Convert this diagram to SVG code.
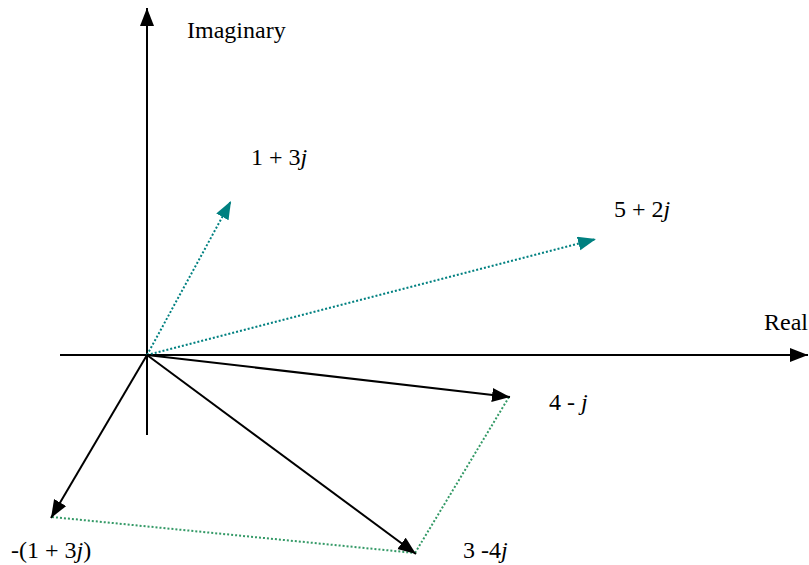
<svg xmlns="http://www.w3.org/2000/svg" width="809" height="565" viewBox="0 0 809 565">
<style>
text{font-family:"Liberation Serif","Times New Roman",serif;font-size:24px;fill:#000}
.ax{stroke:#000;stroke-width:2;fill:none}
.bk{stroke:#000;stroke-width:2;fill:none}
.tl{stroke:#008080;stroke-width:2;stroke-dasharray:2 2;fill:none}
.gn{stroke:#339966;stroke-width:2;stroke-dasharray:2 2;fill:none}
</style>
<defs>
<marker id="ab" markerUnits="userSpaceOnUse" markerWidth="20" markerHeight="16" refX="18" refY="7" orient="auto"><path d="M0,0L18,7L0,14z" fill="#000"/></marker>
<marker id="at" markerUnits="userSpaceOnUse" markerWidth="20" markerHeight="16" refX="18" refY="7" orient="auto"><path d="M0,0L18,7L0,14z" fill="#008080"/></marker>
</defs>
<g id="connectors">
<line class="ax" x1="147" y1="435" x2="147" y2="8" marker-end="url(#ab)"/>
<line class="ax" x1="60" y1="355" x2="808" y2="355" marker-end="url(#ab)"/>
<line class="tl" x1="147" y1="355" x2="231" y2="201" marker-end="url(#at)"/>
<line class="tl" x1="147" y1="355" x2="596" y2="239" marker-end="url(#at)"/>
<line class="gn" x1="509" y1="397" x2="415" y2="553"/>
<line class="gn" x1="52" y1="517" x2="415" y2="553"/>
<line class="bk" x1="147" y1="355" x2="510" y2="397" marker-end="url(#ab)"/>
<line class="bk" x1="147" y1="355" x2="416" y2="554" marker-end="url(#ab)"/>
<line class="bk" x1="147" y1="355" x2="51" y2="518" marker-end="url(#ab)"/>
</g>
<g id="label-imag"><text x="187" y="38">Imaginary</text></g>
<g id="label-real"><text x="764" y="330">Real</text></g>
<g id="label-1p3j"><text x="251" y="165">1 + 3<tspan font-style="italic">j</tspan></text></g>
<g id="label-5p2j"><text x="614" y="217">5 + 2<tspan font-style="italic">j</tspan></text></g>
<g id="label-4mj"><text x="549" y="410">4 - <tspan font-style="italic">j</tspan></text></g>
<g id="label-3m4j"><text x="463" y="558">3 -4<tspan font-style="italic">j</tspan></text></g>
<g id="label-neg"><text x="11" y="558">-(1 + 3<tspan font-style="italic">j</tspan>)</text></g>
</svg>
